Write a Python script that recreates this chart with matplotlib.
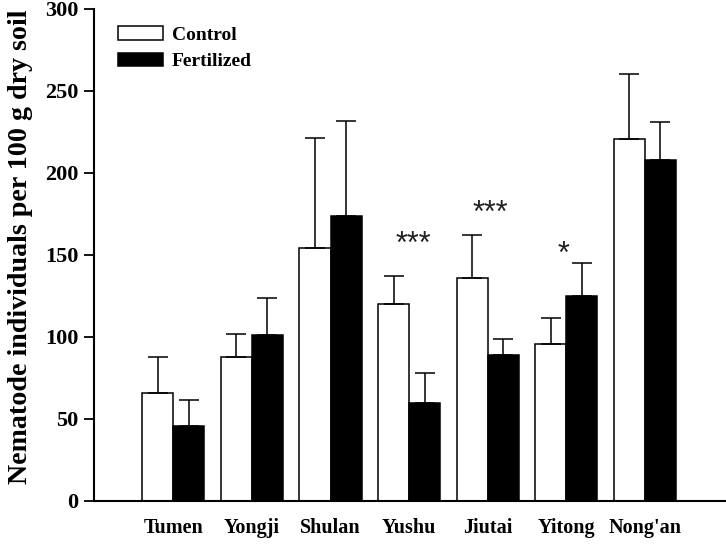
import numpy as np
import matplotlib.pyplot as plt

plt.rcParams['font.family'] = ['Liberation Serif', 'DejaVu Serif']

sites = ['Tumen', 'Yongji', 'Shulan', 'Yushu', 'Jiutai', 'Yitong', "Nong'an"]
control = [66, 88, 154, 120, 136, 96, 221]
control_se = [22, 14, 67.5, 17, 26, 15.5, 39.5]
fertilized = [45.5, 101, 173.5, 60, 89, 125, 208]
fertilized_se = [16, 22.5, 58.5, 18, 9.5, 20, 23]
stars = ['', '', '', '***', '***', '*', '']
star_y = [0, 0, 0, 156, 175, 150, 0]

x = np.arange(len(sites))
w = 0.395
star_dx = [0, 0, 0, 0.06, 0.03, -0.03, 0]

fig = plt.figure(figsize=(7.26, 5.45), dpi=100)
ax = fig.add_axes([94/726, 1-501/545, (725-94)/726, 492/545])

ekw = dict(elinewidth=1.1, capthick=1.1, ecolor='k')
ax.bar(x - w/2, control, w, color='white', edgecolor='k', linewidth=1.1,
       yerr=[np.zeros(len(x)), control_se], capsize=7, error_kw=ekw, label='Control')
ax.bar(x + w/2, fertilized, w, color='black', edgecolor='k', linewidth=1.1,
       yerr=[np.zeros(len(x)), fertilized_se], capsize=7, error_kw=ekw, label='Fertilized')

for i, s in enumerate(stars):
    if s:
        ax.text(x[i] + star_dx[i], star_y[i], s, ha='center', va='center', color='#222222',
                fontsize=22, family=['Liberation Sans', 'DejaVu Sans'])

ax.set_xlim(-1.01, 7.02)
ax.set_ylim(0, 300)
ax.set_yticks(np.arange(0, 301, 50))
ax.set_xticks(x)
ax.set_xticklabels(sites, fontsize=14.5, fontweight='bold')
ax.tick_params(axis='x', length=0, pad=12)
ax.tick_params(axis='y', direction='out', length=7, width=1.3, labelsize=16, pad=4)
for lab in ax.get_yticklabels():
    lab.set_fontweight('bold')
ax.spines['top'].set_visible(False)
ax.spines['right'].set_visible(False)
ax.spines['left'].set_linewidth(1.5)
ax.spines['bottom'].set_linewidth(1.5)
ax.set_ylabel('Nematode individuals per 100 g dry soil', fontsize=20.2, fontweight='bold')
ax.yaxis.set_label_coords(-0.097, 0.517)

leg = ax.legend(loc='upper left', bbox_to_anchor=(0.0105, 1.0), frameon=False,
                prop={'size': 14, 'weight': 'bold'}, handlelength=2.3, handleheight=0.7,
                labelspacing=0.45, handletextpad=0.45)

fig.savefig('out.png', dpi=100)
